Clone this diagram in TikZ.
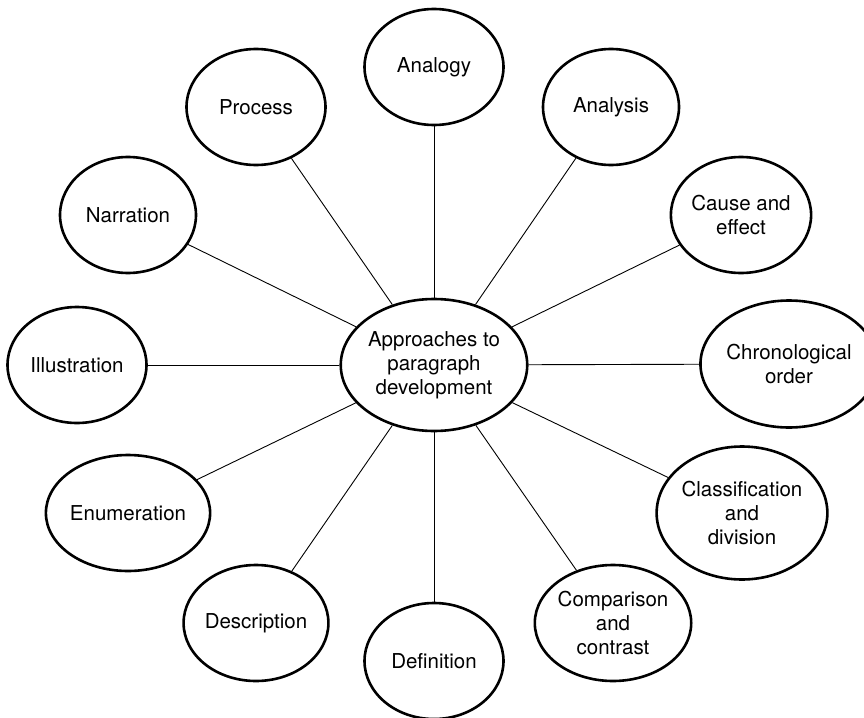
\documentclass[tikz,border=0pt]{standalone}
\usepackage{fontspec}
\setmainfont{TeX Gyre Heros}
\usetikzlibrary{shapes.geometric}

\tikzset{
  topic/.style={ellipse, draw, line width=2.6pt, inner sep=0pt,
    minimum width=139pt, minimum height=116pt, align=center,
    font=\fontsize{20.5}{24}\selectfont},
  hub/.style={topic, minimum width=160pt, minimum height=132pt},
  link/.style={line width=0.9pt}
}

\begin{document}
\begin{tikzpicture}[x=1pt, y=-1pt]
  \useasboundingbox[fill=white] (0,0) rectangle (864,717);

  % central idea
  \node[hub] (hub) at (434,365) {Approaches to\\paragraph\\development};

  % surrounding approaches
  \node[topic] (analogy)  at (434,67)  {Analogy};
  \node[topic, minimum width=136pt] (analysis) at (611,107) {Analysis};
  \node[topic, minimum width=136pt] (cause)    at (741,215) {Cause and\\effect};
  \node[topic, minimum width=148pt, minimum height=127pt] (chrono) at (789,364) {Chronological\\order};
  \node[topic, minimum width=162pt, minimum height=133pt] (classif) at (742,513) {Classification\\and\\division};
  \node[topic] (compare)  at (613,623) {Comparison\\and\\contrast};
  \node[topic] (defin)    at (434,661) {Definition};
  \node[topic] (descr)    at (256,623) {Description};
  \node[topic, minimum width=136pt] (enum)   at (128,513) {Enumeration};
  \node[topic] (illus)    at (77,365)  {Illustration};
  \node[topic, minimum width=136pt] (narr)   at (128,215) {Narration};
  \node[topic] (process)  at (256,107) {Process};

  % spokes
  \foreach \n in {analogy,analysis,cause,chrono,classif,compare,defin,descr,enum,illus,narr,process}
    \draw[link] (hub) -- (\n);
\end{tikzpicture}
\end{document}
